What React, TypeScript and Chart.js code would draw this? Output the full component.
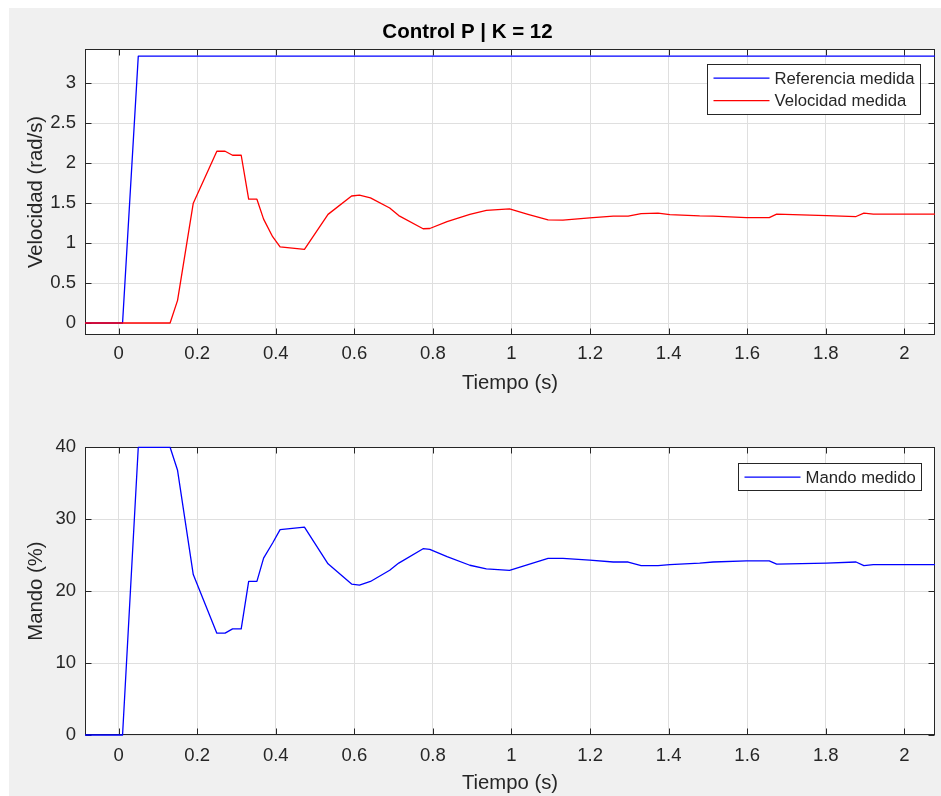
import React, { useEffect, useRef } from 'react';
import { Chart, registerables } from 'chart.js';

Chart.register(...registerables);

const FONT = '"Liberation Sans", Arial, Helvetica, sans-serif';
const INK = '#262626';
const GRID = '#dfdfdf';

// ---- data ----
const TIME = [
  -0.0856, 0.01, 0.05, 0.131, 0.15, 0.19, 0.25, 0.271, 0.29, 0.312, 0.331, 0.352, 0.369, 0.392, 0.411,
  0.473, 0.533, 0.593, 0.613, 0.641, 0.69, 0.713, 0.775, 0.792, 0.836, 0.894, 0.936, 0.995, 1.042,
  1.093, 1.131, 1.199, 1.259, 1.297, 1.33, 1.373, 1.403, 1.479, 1.513, 1.598, 1.656, 1.675, 1.802,
  1.877, 1.897, 1.921, 2.078,
];
const VELOCIDAD = [
  0, 0, 0, 0, 0.284, 1.5, 2.15, 2.15, 2.1, 2.1, 1.55, 1.55, 1.3, 1.08, 0.953,
  0.923, 1.36, 1.59, 1.6, 1.567, 1.44, 1.345, 1.18, 1.183, 1.27, 1.36, 1.41, 1.43, 1.36,
  1.29, 1.287, 1.316, 1.337, 1.337, 1.37, 1.375, 1.358, 1.34, 1.337, 1.32, 1.32, 1.362, 1.345,
  1.333, 1.375, 1.362, 1.362,
];
const MANDO = [
  0, 0, 40, 40, 36.8, 22.3, 14.16, 14.16, 14.76, 14.76, 21.35, 21.35, 24.6, 26.7, 28.55,
  28.9, 23.8, 20.98, 20.85, 21.35, 22.9, 23.9, 25.9, 25.8, 24.8, 23.6, 23.1, 22.9, 23.7,
  24.55, 24.55, 24.3, 24.05, 24.05, 23.55, 23.55, 23.7, 23.9, 24.05, 24.2, 24.2, 23.77, 23.9,
  24.05, 23.55, 23.7, 23.7,
];
const REF_TIME = [-0.0856, 0.01, 0.05, 2.078];
const REFERENCIA = [0, 0, 3.34, 3.34];

const X_TICKS = [0, 0.2, 0.4, 0.6, 0.8, 1, 1.2, 1.4, 1.6, 1.8, 2];
const VEL_TICKS = [0, 0.5, 1, 1.5, 2, 2.5, 3];
const MANDO_TICKS = [0, 10, 20, 30, 40];
const X_MIN = -0.0856;
const X_MAX = 2.078;

const pts = (xs: number[], ys: number[]) => xs.map((x, i) => ({ x, y: ys[i] }));

const matlabPlugin = {
  id: 'matlabBox',
  beforeDraw(chart: any) {
    const { ctx, chartArea: a } = chart;
    ctx.save();
    ctx.fillStyle = '#ffffff';
    ctx.fillRect(a.left, a.top, a.right - a.left, a.bottom - a.top);
    ctx.restore();
  },
  beforeDatasetsDraw(chart: any) {
    const { ctx, chartArea: a, scales } = chart;
    const L = 6;
    const l = Math.round(a.left) + 0.5;
    const r = Math.round(a.right) - 0.5;
    const t = Math.round(a.top) + 0.5;
    const b = Math.round(a.bottom) - 0.5;
    ctx.save();
    ctx.strokeStyle = INK;
    ctx.lineWidth = 1;
    ctx.beginPath();
    scales.x.ticks.forEach((tk: any) => {
      const px = Math.round(scales.x.getPixelForValue(tk.value)) + 0.5;
      ctx.moveTo(px, b);
      ctx.lineTo(px, b - L);
      ctx.moveTo(px, t);
      ctx.lineTo(px, t + L);
    });
    scales.y.ticks.forEach((tk: any) => {
      const py = Math.round(scales.y.getPixelForValue(tk.value)) + 0.5;
      ctx.moveTo(l, py);
      ctx.lineTo(l + L, py);
      ctx.moveTo(r, py);
      ctx.lineTo(r - L, py);
    });
    ctx.stroke();
    ctx.strokeRect(l, t, r - l, b - t);
    ctx.restore();
  },
  afterDraw(chart: any, _args: any, opts: any) {
    const { ctx, chartArea: a } = chart;
    const items = (opts && opts.items) || [];
    if (!items.length) return;
    ctx.save();
    ctx.font = `16.7px ${FONT}`;
    let maxW = 0;
    items.forEach((it: any) => {
      maxW = Math.max(maxW, ctx.measureText(it.label).width);
    });
    const w = Math.round(67 + maxW + 6);
    const h = Math.round(items.length * 22.4 + 5);
    const x = Math.round(a.right - opts.right - w) + 0.5;
    const y = Math.round(a.top + opts.top) + 0.5;
    ctx.fillStyle = '#ffffff';
    ctx.fillRect(x, y, w, h);
    ctx.strokeStyle = INK;
    ctx.lineWidth = 1;
    ctx.strokeRect(x, y, w, h);
    items.forEach((it: any, i: number) => {
      const cy = y + 2.5 + 11.2 + i * 22.4;
      ctx.beginPath();
      ctx.strokeStyle = it.color;
      ctx.lineWidth = 1.3;
      ctx.moveTo(x + 6, cy);
      ctx.lineTo(x + 62, cy);
      ctx.stroke();
      ctx.fillStyle = INK;
      ctx.textBaseline = 'middle';
      ctx.textAlign = 'left';
      ctx.fillText(it.label, x + 67, cy + 1);
    });
    ctx.restore();
  },
};

function makeOptions(cfg: {
  yTicks: number[];
  yMin: number;
  yMax: number;
  yLabel: string;
  xHeight: number;
  xTitleBottom: number;
  xTickPad: number;
  padTop: number;
  title?: string;
  legend: any;
}) {
  return {
    animation: false,
    responsive: false,
    events: [],
    layout: { padding: { left: 0, right: 6, top: cfg.padTop, bottom: 0 }, autoPadding: false },
    plugins: {
      legend: { display: false },
      tooltip: { enabled: false },
      title: cfg.title
        ? {
            display: true,
            text: cfg.title,
            color: '#000000',
            font: { family: FONT, size: 20.5, weight: 'bold' },
            padding: { top: 19.7, bottom: 4.7 },
          }
        : { display: false },
      matlabBox: cfg.legend,
    },
    scales: {
      x: {
        type: 'linear',
        min: X_MIN,
        max: X_MAX,
        afterBuildTicks: (s: any) => {
          s.ticks = X_TICKS.map((v) => ({ value: v }));
        },
        afterFit: (s: any) => {
          s.height = cfg.xHeight;
        },
        grid: { color: GRID, lineWidth: 1, drawTicks: false },
        border: { display: false },
        ticks: {
          padding: cfg.xTickPad,
          color: INK,
          font: { family: FONT, size: 18.5 },
          maxRotation: 0,
          autoSkip: false,
          callback: (v: any) => String(v),
        },
        title: {
          display: true,
          text: 'Tiempo (s)',
          color: INK,
          font: { family: FONT, size: 20.3 },
          padding: { top: 0, bottom: cfg.xTitleBottom },
        },
      },
      y: {
        type: 'linear',
        min: cfg.yMin,
        max: cfg.yMax,
        afterBuildTicks: (s: any) => {
          s.ticks = cfg.yTicks.map((v) => ({ value: v }));
        },
        afterFit: (s: any) => {
          s.width = 85;
        },
        grid: { color: GRID, lineWidth: 1, drawTicks: false },
        border: { display: false },
        ticks: {
          padding: 9,
          color: INK,
          font: { family: FONT, size: 18.5 },
          autoSkip: false,
          callback: (v: any) => String(v),
        },
        title: {
          display: true,
          text: cfg.yLabel,
          color: INK,
          font: { family: FONT, size: 20.3 },
          padding: { top: 24.5, bottom: 0 },
        },
      },
    },
  };
}

export default function App() {
  const topRef = useRef<HTMLCanvasElement | null>(null);
  const botRef = useRef<HTMLCanvasElement | null>(null);

  useEffect(() => {
    const lineBase = {
      pointRadius: 0,
      borderWidth: 1.3,
      tension: 0,
      borderJoinStyle: 'round',
      fill: false,
      clip: 4,
    };
    const c1 = new Chart(topRef.current as HTMLCanvasElement, {
      type: 'line',
      data: {
        datasets: [
          { ...lineBase, label: 'Referencia medida', data: pts(REF_TIME, REFERENCIA), borderColor: '#0000ff', order: 1 },
          { ...lineBase, label: 'Velocidad medida', data: pts(TIME, VELOCIDAD), borderColor: '#ff0000', order: 0 },
        ],
      },
      options: makeOptions({
        yTicks: VEL_TICKS,
        yMin: -0.15,
        yMax: 3.43,
        yLabel: 'Velocidad (rad/s)',
        xHeight: 65,
        xTitleBottom: 4.8,
        xTickPad: 8,
        padTop: 0,
        title: 'Control P | K = 12',
        legend: {
          top: 15,
          right: 15,
          items: [
            { label: 'Referencia medida', color: '#0000ff' },
            { label: 'Velocidad medida', color: '#ff0000' },
          ],
        },
      }) as any,
      plugins: [matlabPlugin as any],
    });
    const c2 = new Chart(botRef.current as HTMLCanvasElement, {
      type: 'line',
      data: {
        datasets: [{ ...lineBase, label: 'Mando medido', data: pts(TIME, MANDO), borderColor: '#0000ff' }],
      },
      options: makeOptions({
        yTicks: MANDO_TICKS,
        yMin: 0,
        yMax: 40,
        yLabel: 'Mando (%)',
        xHeight: 61,
        xTitleBottom: 0,
        xTickPad: 10,
        padTop: 47.3,
        legend: {
          top: 16,
          right: 14,
          items: [{ label: 'Mando medido', color: '#0000ff' }],
        },
      }) as any,
      plugins: [matlabPlugin as any],
    });
    return () => {
      c1.destroy();
      c2.destroy();
    };
  }, []);

  return (
    <div style={{ position: 'fixed', left: 0, top: 0, width: 941, height: 796, background: '#ffffff', overflow: 'hidden' }}>
      <div style={{ position: 'absolute', left: 9, top: 8, right: 0, bottom: 0, background: '#f0f0f0' }} />
      <canvas ref={topRef} width={941} height={400} style={{ position: 'absolute', left: 0, top: 0 }} />
      <canvas ref={botRef} width={941} height={396} style={{ position: 'absolute', left: 0, top: 400 }} />
    </div>
  );
}
